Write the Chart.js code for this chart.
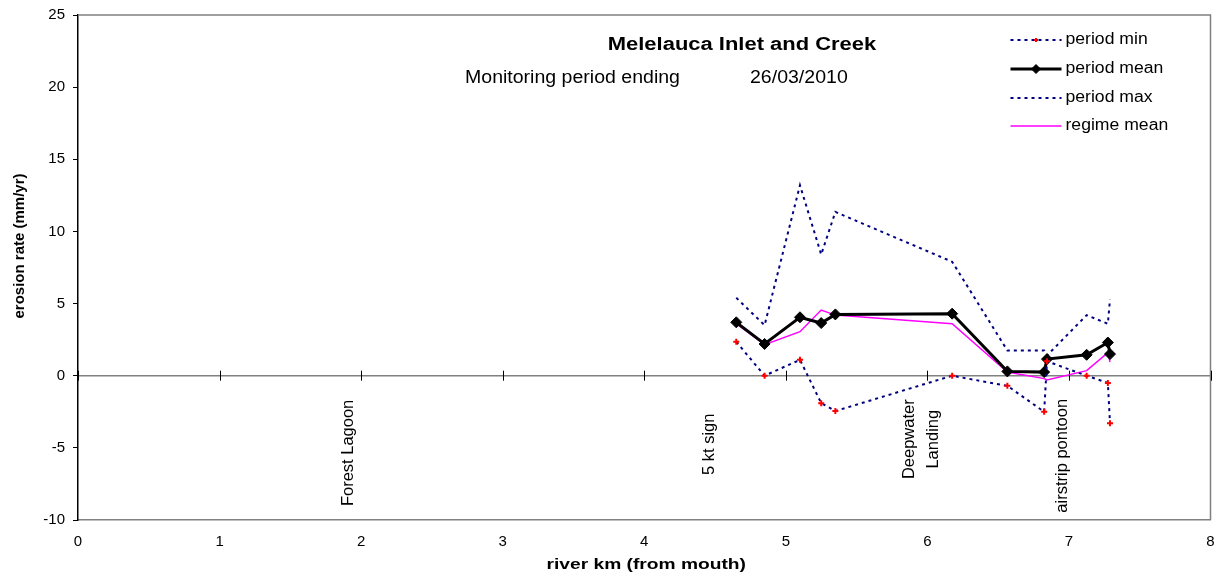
<!DOCTYPE html>
<html>
<head>
<meta charset="utf-8">
<script src="https://cdn.jsdelivr.net/npm/chart.js@4.4.1/dist/chart.umd.min.js"></script>
<style>
  html, body { margin: 0; padding: 0; background: #ffffff; }
  #wrap { width: 1217px; height: 576px; }
</style>
</head>
<body>
<div id="wrap"><canvas id="chart" width="1217" height="576"></canvas></div>
<script>
// Survey sites along the river (km from mouth)
const riverKm     = [4.65, 4.85, 5.10, 5.25, 5.35, 6.175, 6.565, 6.825, 6.845, 7.125, 7.275, 7.29];
// Erosion rates (mm/yr)
const periodMin   = [2.35, 0.0, 1.1, -1.9, -2.45, 0.0, -0.7, -2.5, 1.0, 0.0, -0.5, -3.3];
const periodMean  = [3.7, 2.2, 4.05, 3.65, 4.25, 4.3, 0.3, 0.25, 1.15, 1.45, 2.3, 1.5];
const periodMax   = [5.4, 3.5, 13.2, 8.4, 11.35, 7.9, 1.75, 1.75, 1.4, 4.2, 3.6, 5.3];
const regimeMean  = [3.6, 2.15, 3.05, 4.55, 4.2, 3.6, 0.25, -0.2, -0.3, 0.35, 1.6, 0.95];

// Landmarks written along the river axis
const siteNames = [['Forest Lagoon'], ['5 kt sign'], ['Deepwater', 'Landing'], ['airstrip pontoon']];
const siteKm    = [1.91, 4.46, 5.96, 6.955];
const siteLevel = [-5.35, -4.75, -4.4, -5.55];

const xTicks = [0, 1, 2, 3, 4, 5, 6, 7, 8];
const yTicks = [-10, -5, 0, 5, 10, 15, 20, 25];

const chartTitle = 'Melelauca Inlet and Creek';
const subTitle   = 'Monitoring period ending';
const periodEnd  = '26/03/2010';
const xTitle     = 'river km (from mouth)';
const yTitle     = 'erosion rate (mm/yr)';

const FONT = "'Liberation Sans', Arial, sans-serif";
const pts = vals => vals.map((v, i) => ({ x: riverKm[i], y: v }));

// text drawn with a horizontal stretch (wide report typeface)
function wideText(ctx, text, x, y, sx, align) {
  ctx.save();
  ctx.translate(x, y);
  ctx.scale(sx, 1);
  ctx.textAlign = align;
  ctx.fillText(text, 0, 0);
  ctx.restore();
}

// Plot frame, zero axis with crossing tick marks
const framePlugin = {
  id: 'frameAndZero',
  beforeDatasetsDraw(chart) {
    const { ctx, chartArea: a, scales: { x, y } } = chart;
    ctx.save();
    ctx.strokeStyle = '#808080';
    ctx.lineWidth = 1.5;
    ctx.beginPath();
    ctx.moveTo(a.left, a.top); ctx.lineTo(a.right, a.top); ctx.lineTo(a.right, a.bottom);
    ctx.stroke();
    const y0 = y.getPixelForValue(0);
    ctx.beginPath(); ctx.moveTo(a.left, y0); ctx.lineTo(a.right, y0); ctx.stroke();
    ctx.strokeStyle = '#000000';
    ctx.lineWidth = 1;
    xTicks.forEach(v => {
      const px = Math.round(x.getPixelForValue(v)) + 0.5;
      ctx.beginPath(); ctx.moveTo(px, y0 - 5); ctx.lineTo(px, y0 + 5); ctx.stroke();
    });
    ctx.restore();
  }
};

// Titles, landmark names and the series key
const notesPlugin = {
  id: 'notes',
  afterDraw(chart) {
    const { ctx, chartArea: a, scales: { x, y } } = chart;
    ctx.save();
    ctx.fillStyle = '#000000';
    ctx.textBaseline = 'middle';

    // headings
    ctx.font = 'bold 18px ' + FONT;
    wideText(ctx, chartTitle, 742, 45, 1.22, 'center');
    ctx.font = '18px ' + FONT;
    wideText(ctx, subTitle, 465, 78, 1.085, 'left');
    wideText(ctx, periodEnd, 750, 78, 1.085, 'left');

    // axis titles
    ctx.font = 'bold 15px ' + FONT;
    wideText(ctx, xTitle, (a.left + a.right) / 2 + 2, 565, 1.28, 'center');
    ctx.save();
    ctx.translate(20, 246);
    ctx.rotate(-Math.PI / 2);
    ctx.textAlign = 'center';
    ctx.fillText(yTitle, 0, 0);
    ctx.restore();

    // landmark names, written upwards
    ctx.font = '16.5px ' + FONT;
    siteNames.forEach((lines, i) => {
      const cx = x.getPixelForValue(siteKm[i]);
      const cy = y.getPixelForValue(siteLevel[i]);
      const lh = 24;
      lines.forEach((t, j) => {
        ctx.save();
        ctx.translate(cx + (j - (lines.length - 1) / 2) * lh, cy);
        ctx.rotate(-Math.PI / 2);
        ctx.textAlign = 'center';
        ctx.fillText(t, 0, 0);
        ctx.restore();
      });
    });

    // key
    const x0 = a.right - 200, x1 = a.right - 149, tx = a.right - 145;
    const rows = [a.top + 25, a.top + 54, a.top + 83, a.top + 111];
    ctx.font = '16px ' + FONT;
    chart.data.datasets.forEach((ds, i) => {
      const yy = rows[i];
      ctx.save();
      ctx.strokeStyle = ds.borderColor;
      ctx.lineWidth = ds.borderWidth;
      ctx.setLineDash(ds.borderDash || []);
      ctx.beginPath(); ctx.moveTo(x0, yy); ctx.lineTo(x1, yy); ctx.stroke();
      ctx.restore();
      if (ds.pointRadius > 0) {
        ctx.save();
        ctx.fillStyle = ds.pointBackgroundColor;
        ctx.strokeStyle = ds.pointBorderColor;
        ctx.lineWidth = ds.pointBorderWidth;
        Chart.helpers.drawPoint(ctx, { pointStyle: ds.pointStyle, radius: ds.pointRadius - 1, borderWidth: ds.pointBorderWidth, rotation: 0 }, (x0 + x1) / 2, yy);
        ctx.restore();
      }
      ctx.fillStyle = '#000000';
      wideText(ctx, ds.label, tx, yy, 1.1, 'left');
    });
    ctx.restore();
  }
};

new Chart(document.getElementById('chart'), {
  type: 'line',
  data: {
    datasets: [
      {
        label: 'period min',
        data: pts(periodMin),
        borderColor: '#000080', borderWidth: 2, borderDash: [3, 4],
        pointStyle: 'cross', pointRadius: 3, pointBorderWidth: 2,
        pointBorderColor: '#ff0000', pointBackgroundColor: '#ff0000',
        tension: 0
      },
      {
        label: 'period mean',
        data: pts(periodMean),
        borderColor: '#000000', borderWidth: 3,
        pointStyle: 'rectRot', pointRadius: 5.5, pointBorderWidth: 1,
        pointBorderColor: '#000000', pointBackgroundColor: '#000000',
        tension: 0
      },
      {
        label: 'period max',
        data: pts(periodMax),
        borderColor: '#000080', borderWidth: 2, borderDash: [3, 4],
        pointRadius: 0,
        tension: 0
      },
      {
        label: 'regime mean',
        data: pts(regimeMean),
        borderColor: '#ff00ff', borderWidth: 1.5,
        pointRadius: 0,
        tension: 0
      }
    ]
  },
  options: {
    responsive: false,
    animation: false,
    devicePixelRatio: 1,
    layout: { padding: { left: 0, right: 6, top: 15, bottom: 0 } },
    plugins: {
      legend: { display: false },
      tooltip: { enabled: false },
      title: { display: false }
    },
    scales: {
      x: {
        type: 'linear',
        min: 0, max: 8,
        afterFit(scale) { scale.height = 56; scale.paddingLeft = 0; scale.paddingRight = 0; },
        afterBuildTicks(scale) { scale.ticks = xTicks.map(v => ({ value: v })); },
        grid: { display: false, drawTicks: false },
        border: { display: true, color: '#808080', width: 1.5 },
        ticks: { color: '#000000', font: { family: FONT, size: 15 }, padding: 13, maxRotation: 0 }
      },
      y: {
        min: -10, max: 25,
        afterFit(scale) { scale.width = 78; scale.paddingTop = 0; scale.paddingBottom = 0; },
        afterBuildTicks(scale) { scale.ticks = yTicks.map(v => ({ value: v })); },
        grid: { drawOnChartArea: false, drawTicks: true, tickLength: 5, color: '#000000' },
        border: { display: true, color: '#000000', width: 1.5 },
        ticks: { color: '#000000', font: { family: FONT, size: 15 }, padding: 8 }
      }
    }
  },
  plugins: [framePlugin, notesPlugin]
});
</script>
</body>
</html>
